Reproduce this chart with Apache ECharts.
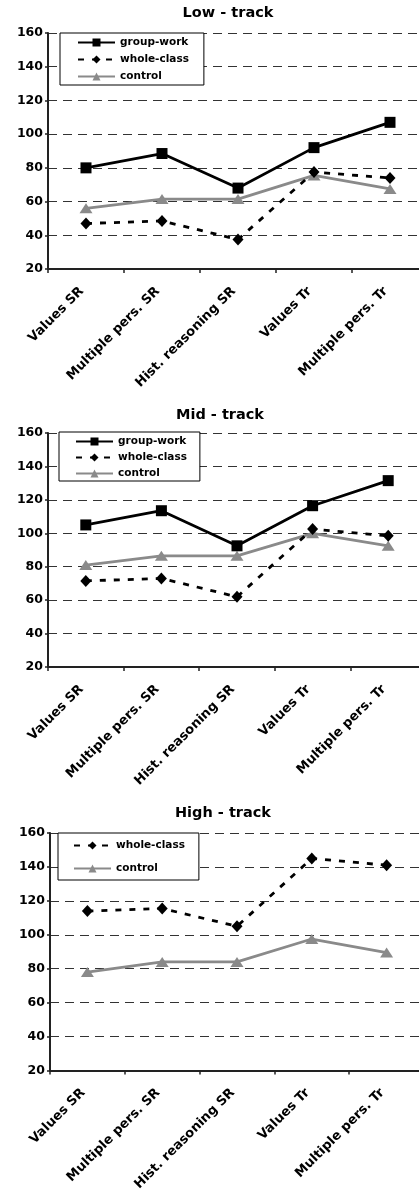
<!DOCTYPE html>
<html>
<head>
<meta charset="utf-8">
<script src="https://cdn.jsdelivr.net/npm/echarts@6/dist/echarts.min.js"></script>
<style>
html,body{margin:0;padding:0;background:#fff;}
#chart{width:419px;height:1189px;}
</style>
</head>
<body>
<div id="chart"></div>
<script>
var categories = ['Values SR', 'Multiple pers. SR', 'Hist. reasoning SR', 'Values Tr', 'Multiple pers. Tr'];
var panelTitles = ['Low - track', 'Mid - track', 'High - track'];
var yTicks = [20, 40, 60, 80, 100, 120, 140, 160];

var lowGroupWork = [80, 88.5, 68, 92, 107];
var lowWholeClass = [47, 48.5, 37.5, 77.5, 74];
var lowControl = [56, 61.5, 61.5, 75.5, 67.5];

var midGroupWork = [105, 113.5, 92.5, 116.5, 131.5];
var midWholeClass = [71.5, 73, 62, 102.5, 98.5];
var midControl = [81, 86.5, 86.5, 100, 92.5];

var highWholeClass = [114, 115.5, 105, 145, 141];
var highControl = [78, 84, 84, 97.5, 89.5];

var FONT = 'DejaVu Sans';
var GRAY = '#8a8a8a';

var grids = [
  {left: 48, top: 33, width: 380, height: 236},
  {left: 48, top: 433, width: 378, height: 234},
  {left: 50, top: 833, width: 374, height: 237.5}
];
var titlePos = [
  {cx: 228, cy: 15},
  {cx: 220, cy: 417},
  {cx: 223, cy: 815}
];
var legendPos = [
  {left: 60, top: 33, gap: 6, pad: [4, 15, 3, 17]},
  {left: 59, top: 432, gap: 5, pad: [4, 13, 2, 16]},
  {left: 58, top: 833, gap: 12, pad: [7, 14, 6, 15]}
];

var chart = echarts.init(document.getElementById('chart'), null, {renderer: 'canvas'});

var option = {
  animation: false,
  backgroundColor: '#fff',
  title: [],
  legend: [],
  grid: [],
  xAxis: [],
  yAxis: [],
  series: []
};

function sGroup(data, i) {
  return {
    name: 'group-work', type: 'line', xAxisIndex: i, yAxisIndex: i, data: data,
    symbol: 'rect', symbolSize: 11,
    lineStyle: {color: '#000', width: 2.8},
    itemStyle: {color: '#000'}, z: 4
  };
}
function sWhole(data, i) {
  return {
    name: 'whole-class', type: 'line', xAxisIndex: i, yAxisIndex: i, data: data,
    symbol: 'diamond', symbolSize: [11, 12],
    lineStyle: {color: '#000', width: 2.8, type: [6, 8]},
    itemStyle: {color: '#000'}, z: 3
  };
}
function sControl(data, i) {
  return {
    name: 'control', type: 'line', xAxisIndex: i, yAxisIndex: i, data: data,
    symbol: 'triangle', symbolSize: [13, 10],
    lineStyle: {color: GRAY, width: 2.8},
    itemStyle: {color: GRAY}, z: 2
  };
}

var panelSeries = [
  [sGroup(lowGroupWork, 0), sWhole(lowWholeClass, 0), sControl(lowControl, 0)],
  [sGroup(midGroupWork, 1), sWhole(midWholeClass, 1), sControl(midControl, 1)],
  [sWhole(highWholeClass, 2), sControl(highControl, 2)]
];

for (var i = 0; i < 3; i++) {
  var g = grids[i];
  option.grid.push({
    left: g.left, top: g.top, width: g.width, height: g.height,
    containLabel: false, outerBoundsMode: 'none'
  });
  option.title.push({
    text: panelTitles[i],
    left: titlePos[i].cx,
    top: titlePos[i].cy - 9,
    textAlign: 'center',
    padding: 0,
    textStyle: {fontFamily: FONT, fontWeight: 'bold', fontSize: 14.5, color: '#000'}
  });
  option.xAxis.push({
    type: 'category', gridIndex: i, data: categories, boundaryGap: true,
    axisLine: {lineStyle: {color: '#222', width: 2}},
    axisTick: {show: true, length: 4, lineStyle: {color: '#222', width: 1.5}},
    axisLabel: {
      rotate: 45, margin: 16, interval: 0, padding: [0, 6, 0, 0],
      fontFamily: FONT, fontWeight: 'bold', fontSize: 13, color: '#000'
    },
    splitLine: {show: false}
  });
  option.yAxis.push({
    type: 'value', gridIndex: i, min: 20, max: 160, interval: 20,
    axisLine: {show: true, lineStyle: {color: '#222', width: 2}},
    axisTick: {show: true, length: 3, lineStyle: {color: '#222', width: 1.5}},
    axisLabel: {
      margin: 5, fontFamily: FONT, fontWeight: 'bold', fontSize: 12.5, color: '#000',
      customValues: yTicks
    },
    splitLine: {show: true, lineStyle: {color: '#333', width: 1, type: [9, 6]}}
  });
  var names = panelSeries[i].map(function (s) { return s.name; });
  option.legend.push({
    data: names,
    orient: 'vertical',
    left: legendPos[i].left,
    top: legendPos[i].top,
    padding: legendPos[i].pad,
    itemGap: legendPos[i].gap,
    itemWidth: 37,
    itemHeight: 10,
    borderColor: '#000',
    borderWidth: 1,
    backgroundColor: '#fff',
    selectedMode: false,
    textStyle: {fontFamily: FONT, fontWeight: 'bold', fontSize: 10.5, color: '#000'}
  });
  option.series = option.series.concat(panelSeries[i]);
}

chart.setOption(option);
</script>
</body>
</html>
